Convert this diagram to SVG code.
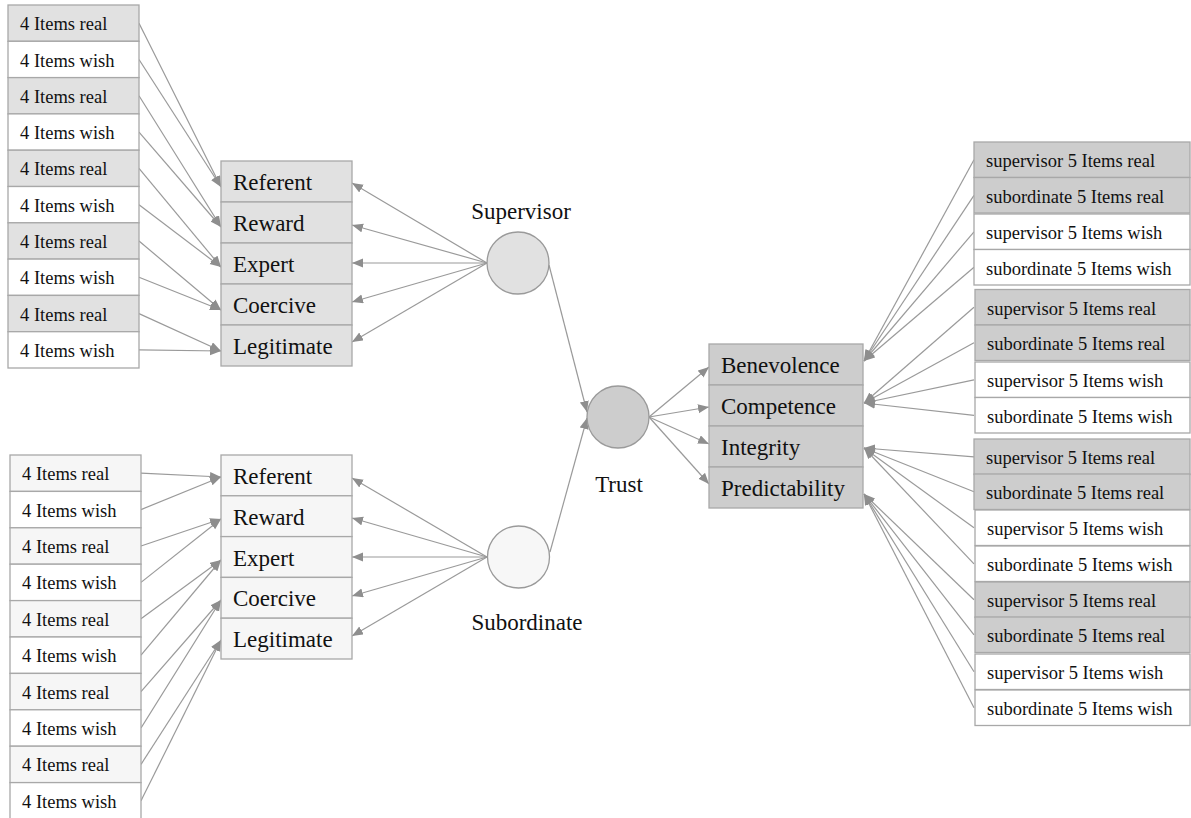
<svg xmlns="http://www.w3.org/2000/svg" width="1191" height="818" viewBox="0 0 1191 818">
<defs>
<style>
.box{stroke:#a8a8a8;stroke-width:1.3}
.g1{fill:#e1e1e1}
.g2{fill:#f6f6f6}
.g3{fill:#cdcdcd}
.w{fill:#ffffff}
.s{font-family:"Liberation Serif","Times New Roman",serif;font-size:18.5px;fill:#111}
.l{font-family:"Liberation Serif","Times New Roman",serif;font-size:23px;fill:#111}
.c{stroke:#9a9a9a;stroke-width:1.2;fill:none;marker-end:url(#ah)}
.cn{stroke:#9a9a9a;stroke-width:1.3}
</style>
<marker id="ah" markerUnits="userSpaceOnUse" markerWidth="12" markerHeight="10" viewBox="0 0 12 10" refX="11" refY="4.5" orient="auto">
<path d="M0,0 L11,4.5 L0,9 z" fill="#8e8e8e"/>
</marker>
</defs>
<rect width="1191" height="818" fill="#ffffff"/>

<g id="connectors">
<!-- top left items to constructs -->
<line class="c" x1="139" y1="23.2" x2="221" y2="187"/>
<line class="c" x1="139" y1="59.5" x2="221" y2="187"/>
<line class="c" x1="139" y1="95.8" x2="221" y2="227"/>
<line class="c" x1="139" y1="132.1" x2="221" y2="227"/>
<line class="c" x1="139" y1="168.4" x2="221" y2="267"/>
<line class="c" x1="139" y1="204.7" x2="221" y2="267"/>
<line class="c" x1="139" y1="241" x2="221" y2="310"/>
<line class="c" x1="139" y1="277.3" x2="221" y2="310"/>
<line class="c" x1="139" y1="313.6" x2="221" y2="351"/>
<line class="c" x1="139" y1="349.9" x2="221" y2="351"/>
<!-- bottom left items to constructs -->
<line class="c" x1="141" y1="473.2" x2="221" y2="477"/>
<line class="c" x1="141" y1="509.6" x2="221" y2="477"/>
<line class="c" x1="141" y1="546" x2="221" y2="519"/>
<line class="c" x1="141" y1="582.4" x2="221" y2="519"/>
<line class="c" x1="141" y1="618.8" x2="221" y2="560"/>
<line class="c" x1="141" y1="655.2" x2="221" y2="560"/>
<line class="c" x1="141" y1="691.6" x2="221" y2="600"/>
<line class="c" x1="141" y1="728" x2="221" y2="600"/>
<line class="c" x1="141" y1="764.4" x2="221" y2="640"/>
<line class="c" x1="141" y1="800.8" x2="221" y2="640"/>
<!-- supervisor to constructs -->
<line class="c" x1="487" y1="263" x2="352" y2="183"/>
<line class="c" x1="487" y1="263" x2="352" y2="225"/>
<line class="c" x1="487" y1="263" x2="352" y2="263"/>
<line class="c" x1="487" y1="263" x2="352" y2="302"/>
<line class="c" x1="487" y1="263" x2="352" y2="342"/>
<!-- subordinate to constructs -->
<line class="c" x1="487" y1="557" x2="352" y2="478"/>
<line class="c" x1="487" y1="557" x2="352" y2="518"/>
<line class="c" x1="487" y1="557" x2="352" y2="557"/>
<line class="c" x1="487" y1="557" x2="352" y2="596"/>
<line class="c" x1="487" y1="557" x2="352" y2="636"/>
<!-- to trust -->
<line class="c" x1="549" y1="265" x2="587" y2="412"/>
<line class="c" x1="550" y1="552" x2="587" y2="418"/>
<!-- trust to constructs -->
<line class="c" x1="649" y1="417" x2="709" y2="367"/>
<line class="c" x1="649" y1="417" x2="709" y2="407"/>
<line class="c" x1="649" y1="417" x2="709" y2="444"/>
<line class="c" x1="649" y1="417" x2="709" y2="484"/>
<!-- right items to trust constructs -->
<line class="c" x1="974" y1="159.8" x2="864" y2="361"/>
<line class="c" x1="974" y1="195.3" x2="864" y2="361"/>
<line class="c" x1="974" y1="231.8" x2="864" y2="361"/>
<line class="c" x1="974" y1="267.3" x2="864" y2="361"/>
<line class="c" x1="974" y1="307.3" x2="864" y2="403"/>
<line class="c" x1="974" y1="342.8" x2="864" y2="403"/>
<line class="c" x1="974" y1="379.8" x2="864" y2="403"/>
<line class="c" x1="974" y1="415.3" x2="864" y2="403"/>
<line class="c" x1="974" y1="456.8" x2="864" y2="448"/>
<line class="c" x1="974" y1="491.8" x2="864" y2="448"/>
<line class="c" x1="974" y1="527.8" x2="864" y2="448"/>
<line class="c" x1="974" y1="563.8" x2="864" y2="448"/>
<line class="c" x1="974" y1="599.8" x2="864" y2="494"/>
<line class="c" x1="974" y1="634.8" x2="864" y2="494"/>
<line class="c" x1="974" y1="671.8" x2="864" y2="494"/>
<line class="c" x1="974" y1="707.8" x2="864" y2="494"/>
</g>

<!-- top left items -->
<g id="tl1"><rect class="box g1" x="8" y="5" width="131" height="36.3"/><text class="s" x="20" y="30.2">4 Items real</text></g>
<g id="tl2"><rect class="box w" x="8" y="41.3" width="131" height="36.3"/><text class="s" x="20" y="66.5">4 Items wish</text></g>
<g id="tl3"><rect class="box g1" x="8" y="77.6" width="131" height="36.3"/><text class="s" x="20" y="102.8">4 Items real</text></g>
<g id="tl4"><rect class="box w" x="8" y="113.9" width="131" height="36.3"/><text class="s" x="20" y="139.1">4 Items wish</text></g>
<g id="tl5"><rect class="box g1" x="8" y="150.2" width="131" height="36.3"/><text class="s" x="20" y="175.4">4 Items real</text></g>
<g id="tl6"><rect class="box w" x="8" y="186.5" width="131" height="36.3"/><text class="s" x="20" y="211.7">4 Items wish</text></g>
<g id="tl7"><rect class="box g1" x="8" y="222.8" width="131" height="36.3"/><text class="s" x="20" y="248">4 Items real</text></g>
<g id="tl8"><rect class="box w" x="8" y="259.1" width="131" height="36.3"/><text class="s" x="20" y="284.3">4 Items wish</text></g>
<g id="tl9"><rect class="box g1" x="8" y="295.4" width="131" height="36.3"/><text class="s" x="20" y="320.6">4 Items real</text></g>
<g id="tl10"><rect class="box w" x="8" y="331.7" width="131" height="36.3"/><text class="s" x="20" y="356.9">4 Items wish</text></g>

<!-- bottom left items -->
<g id="bl1"><rect class="box g2" x="10" y="455" width="131" height="36.4"/><text class="s" x="22" y="480.2">4 Items real</text></g>
<g id="bl2"><rect class="box w" x="10" y="491.4" width="131" height="36.4"/><text class="s" x="22" y="516.6">4 Items wish</text></g>
<g id="bl3"><rect class="box g2" x="10" y="527.8" width="131" height="36.4"/><text class="s" x="22" y="553">4 Items real</text></g>
<g id="bl4"><rect class="box w" x="10" y="564.2" width="131" height="36.4"/><text class="s" x="22" y="589.4">4 Items wish</text></g>
<g id="bl5"><rect class="box g2" x="10" y="600.6" width="131" height="36.4"/><text class="s" x="22" y="625.8">4 Items real</text></g>
<g id="bl6"><rect class="box w" x="10" y="637" width="131" height="36.4"/><text class="s" x="22" y="662.2">4 Items wish</text></g>
<g id="bl7"><rect class="box g2" x="10" y="673.4" width="131" height="36.4"/><text class="s" x="22" y="698.6">4 Items real</text></g>
<g id="bl8"><rect class="box w" x="10" y="709.8" width="131" height="36.4"/><text class="s" x="22" y="735">4 Items wish</text></g>
<g id="bl9"><rect class="box g2" x="10" y="746.2" width="131" height="36.4"/><text class="s" x="22" y="771.4">4 Items real</text></g>
<g id="bl10"><rect class="box w" x="10" y="782.6" width="131" height="36.4"/><text class="s" x="22" y="807.8">4 Items wish</text></g>

<!-- top constructs -->
<g id="sup-referent"><rect class="box g1" x="221" y="161" width="131" height="41"/><text class="l" x="233" y="190">Referent</text></g>
<g id="sup-reward"><rect class="box g1" x="221" y="202" width="131" height="41"/><text class="l" x="233" y="231">Reward</text></g>
<g id="sup-expert"><rect class="box g1" x="221" y="243" width="131" height="41"/><text class="l" x="233" y="272">Expert</text></g>
<g id="sup-coercive"><rect class="box g1" x="221" y="284" width="131" height="41"/><text class="l" x="233" y="313">Coercive</text></g>
<g id="sup-legitimate"><rect class="box g1" x="221" y="325" width="131" height="41"/><text class="l" x="233" y="354">Legitimate</text></g>

<!-- bottom constructs -->
<g id="sub-referent"><rect class="box g2" x="221" y="455" width="131" height="40.8"/><text class="l" x="233" y="484">Referent</text></g>
<g id="sub-reward"><rect class="box g2" x="221" y="495.8" width="131" height="40.8"/><text class="l" x="233" y="524.8">Reward</text></g>
<g id="sub-expert"><rect class="box g2" x="221" y="536.6" width="131" height="40.8"/><text class="l" x="233" y="565.6">Expert</text></g>
<g id="sub-coercive"><rect class="box g2" x="221" y="577.4" width="131" height="40.8"/><text class="l" x="233" y="606.4">Coercive</text></g>
<g id="sub-legitimate"><rect class="box g2" x="221" y="618.2" width="131" height="40.8"/><text class="l" x="233" y="647.2">Legitimate</text></g>

<!-- circles -->
<g id="supervisor"><circle class="cn" cx="518" cy="263" r="31" fill="#e1e1e1"/><text class="l" x="521" y="219" text-anchor="middle">Supervisor</text></g>
<g id="subordinate"><circle class="cn" cx="518.5" cy="557" r="31" fill="#f7f7f7"/><text class="l" x="527" y="630" text-anchor="middle">Subordinate</text></g>
<g id="trust"><circle class="cn" cx="618" cy="417" r="31" fill="#cdcdcd"/><text class="l" x="619" y="492" text-anchor="middle">Trust</text></g>

<!-- trust constructs -->
<g id="benevolence"><rect class="box g3" x="709" y="344" width="154" height="41"/><text class="l" x="721" y="373">Benevolence</text></g>
<g id="competence"><rect class="box g3" x="709" y="385" width="154" height="41"/><text class="l" x="721" y="414">Competence</text></g>
<g id="integrity"><rect class="box g3" x="709" y="426" width="154" height="41"/><text class="l" x="721" y="455">Integrity</text></g>
<g id="predictability"><rect class="box g3" x="709" y="467" width="154" height="41"/><text class="l" x="721" y="496">Predictability</text></g>

<!-- right items -->
<g id="r1"><rect class="box g3" x="974" y="142" width="216" height="35.5"/><text class="s" x="986" y="167">supervisor 5 Items real</text></g>
<g id="r2"><rect class="box g3" x="974" y="177.5" width="216" height="35.5"/><text class="s" x="986" y="202.5">subordinate 5 Items real</text></g>
<g id="r3"><rect class="box w" x="974" y="214" width="216" height="35.5"/><text class="s" x="986" y="239">supervisor 5 Items wish</text></g>
<g id="r4"><rect class="box w" x="974" y="249.5" width="216" height="35.5"/><text class="s" x="986" y="274.5">subordinate 5 Items wish</text></g>
<g id="r5"><rect class="box g3" x="975" y="289.5" width="215" height="35.5"/><text class="s" x="987" y="314.5">supervisor 5 Items real</text></g>
<g id="r6"><rect class="box g3" x="975" y="325" width="215" height="35.5"/><text class="s" x="987" y="350">subordinate 5 Items real</text></g>
<g id="r7"><rect class="box w" x="975" y="362" width="215" height="35.5"/><text class="s" x="987" y="387">supervisor 5 Items wish</text></g>
<g id="r8"><rect class="box w" x="975" y="397.5" width="215" height="35.5"/><text class="s" x="987" y="422.5">subordinate 5 Items wish</text></g>
<g id="r9"><rect class="box g3" x="974" y="439" width="216" height="35.5"/><text class="s" x="986" y="464">supervisor 5 Items real</text></g>
<g id="r10"><rect class="box g3" x="974" y="474" width="216" height="35.5"/><text class="s" x="986" y="499">subordinate 5 Items real</text></g>
<g id="r11"><rect class="box w" x="975" y="510" width="215" height="35.5"/><text class="s" x="987" y="535">supervisor 5 Items wish</text></g>
<g id="r12"><rect class="box w" x="975" y="546" width="215" height="35.5"/><text class="s" x="987" y="571">subordinate 5 Items wish</text></g>
<g id="r13"><rect class="box g3" x="975" y="582" width="215" height="35.5"/><text class="s" x="987" y="607">supervisor 5 Items real</text></g>
<g id="r14"><rect class="box g3" x="975" y="617" width="215" height="35.5"/><text class="s" x="987" y="642">subordinate 5 Items real</text></g>
<g id="r15"><rect class="box w" x="975" y="654" width="215" height="35.5"/><text class="s" x="987" y="679">supervisor 5 Items wish</text></g>
<g id="r16"><rect class="box w" x="975" y="690" width="215" height="35.5"/><text class="s" x="987" y="715">subordinate 5 Items wish</text></g>
</svg>
